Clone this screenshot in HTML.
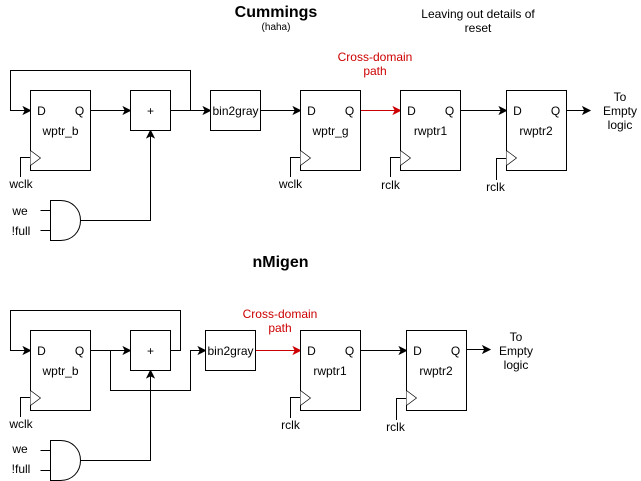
<!DOCTYPE html>
<html>
<head>
<meta charset="utf-8">
<style>
html,body{margin:0;padding:0;background:#fff;width:641px;height:481px;overflow:hidden}
svg{display:block}
text{font-family:"Liberation Sans",sans-serif;font-size:12px;fill:#000;text-anchor:middle}
.l{fill:none;stroke:#000;stroke-width:1}
.b{fill:#fff;stroke:#000;stroke-width:1}
.r{fill:none;stroke:#c00;stroke-width:1}
</style>
</head>
<body>
<svg width="641" height="481" viewBox="0 0 641 481" xmlns="http://www.w3.org/2000/svg">
<defs>
<path id="ah" d="M0 0L-7 3.5L-5.25 0L-7 -3.5Z" stroke="#000" fill="#000"/>
<g id="ff">
<rect class="b" x="0" y="0" width="60" height="80"/>
<path d="M0 60L10 67.5L0 75" fill="#fff" stroke="#000" stroke-width="0.7"/>
<text x="11" y="24.5">D</text>
<text x="49" y="24.5">Q</text>
</g>
<g id="and">
<path class="b" d="M50.5 200.5H60.5C72 200.5 80.5 209 80.5 220.5C80.5 232 72 240.5 60.5 240.5H50.5Z"/>
<path class="l" d="M40.5 210.5H50.5M40.5 230.5H50.5"/>
</g>
</defs>

<!-- Titles -->
<text x="276" y="17" style="font-size:16px;font-weight:bold">Cummings</text>
<text x="276" y="30" style="font-size:10px">(haha)</text>
<text x="478" y="18">Leaving out details of</text>
<text x="478" y="32">reset</text>
<text x="375" y="61" style="fill:#c00">Cross-domain</text>
<text x="375" y="75" style="fill:#c00">path</text>
<text x="280.5" y="267" style="font-size:16px;font-weight:bold">nMigen</text>
<text x="280" y="318" style="fill:#c00">Cross-domain</text>
<text x="280" y="332" style="fill:#c00">path</text>

<!-- Top connectors -->
<path class="l" d="M190.5 110.5V70.5H10.5V110.5H25M90.5 110.5H125M170.5 110.5H205M260.5 110.5H295M460.5 110.5H501M566.5 110.5H585M80.5 220.5H150.5V136"/>
<path class="r" d="M360.5 110.5H395"/>
<use href="#ah" x="30.5" y="110.5"/>
<use href="#ah" x="130.5" y="110.5"/>
<use href="#ah" x="210.5" y="110.5"/>
<use href="#ah" x="300.5" y="110.5"/>
<path d="M400.5 110.5L393.5 114L395.25 110.5L393.5 107Z" fill="#c00" stroke="#c00"/>
<use href="#ah" x="506.5" y="110.5"/>
<use href="#ah" x="590" y="110.5"/>
<use href="#ah" transform="translate(150.5 130.5) rotate(-90)"/>

<!-- Top blocks -->
<use href="#ff" x="30.5" y="90.5"/>
<text x="60.5" y="135">wptr_b</text>
<rect class="b" x="130.5" y="90.5" width="40" height="40"/>
<text x="150.5" y="115">+</text>
<rect class="b" x="210.5" y="90.5" width="50" height="40"/>
<text x="235.5" y="115">bin2gray</text>
<use href="#ff" x="300.5" y="90.5"/>
<text x="330.5" y="135">wptr_g</text>
<use href="#ff" x="400.5" y="90.5"/>
<text x="430.5" y="135">rwptr1</text>
<use href="#ff" x="506.5" y="90.5"/>
<text x="536" y="135">rwptr2</text>

<text x="620" y="101">To</text>
<text x="620" y="115">Empty</text>
<text x="620" y="129">logic</text>

<!-- Top clocks -->
<path class="l" d="M20.5 177V157.5H30.5M290.5 177V157.5H300.5M390.5 177V157.5H400.5M496.5 180V158.5H506.5"/>
<text x="21" y="188">wclk</text>
<text x="290.5" y="188">wclk</text>
<text x="390.5" y="189">rclk</text>
<text x="495.5" y="191">rclk</text>

<use href="#and"/>
<text x="20" y="215">we</text>
<text x="21" y="235">!full</text>

<!-- Bottom connectors -->
<path class="l" d="M170.5 350.5H180.5V310.5H10.5V350.5H25M90.5 350.5H125M110.5 350.5V390.5H190.5V350.5H200M360.5 350.5H401M466.5 349.5H485M80.5 460.5H150.5V376"/>
<path class="r" d="M255.5 350.5H295"/>
<use href="#ah" x="30.5" y="350.5"/>
<use href="#ah" x="130.5" y="350.5"/>
<use href="#ah" x="205.5" y="350.5"/>
<path d="M300.5 350.5L293.5 354L295.25 350.5L293.5 347Z" fill="#c00" stroke="#c00"/>
<use href="#ah" x="406.5" y="350.5"/>
<use href="#ah" x="490" y="349.5"/>
<use href="#ah" transform="translate(150.5 370.5) rotate(-90)"/>

<!-- Bottom blocks -->
<use href="#ff" x="30.5" y="330.5"/>
<text x="60.5" y="375">wptr_b</text>
<rect class="b" x="130.5" y="330.5" width="40" height="40"/>
<text x="150.5" y="355">+</text>
<rect class="b" x="205.5" y="330.5" width="50" height="40"/>
<text x="230.5" y="355">bin2gray</text>
<use href="#ff" x="300.5" y="330.5"/>
<text x="330" y="375">rwptr1</text>
<use href="#ff" x="406.5" y="330.5"/>
<text x="436" y="375">rwptr2</text>

<text x="516" y="341">To</text>
<text x="516" y="355">Empty</text>
<text x="516" y="369">logic</text>

<!-- Bottom clocks -->
<path class="l" d="M20.5 417V397.5H30.5M290.5 418V397.5H300.5M396.5 420V398.5H406.5"/>
<text x="21" y="428">wclk</text>
<text x="290.5" y="429">rclk</text>
<text x="395.5" y="431">rclk</text>

<use href="#and" y="240"/>
<text x="20" y="453">we</text>
<text x="21" y="473">!full</text>
</svg>
</body>
</html>
